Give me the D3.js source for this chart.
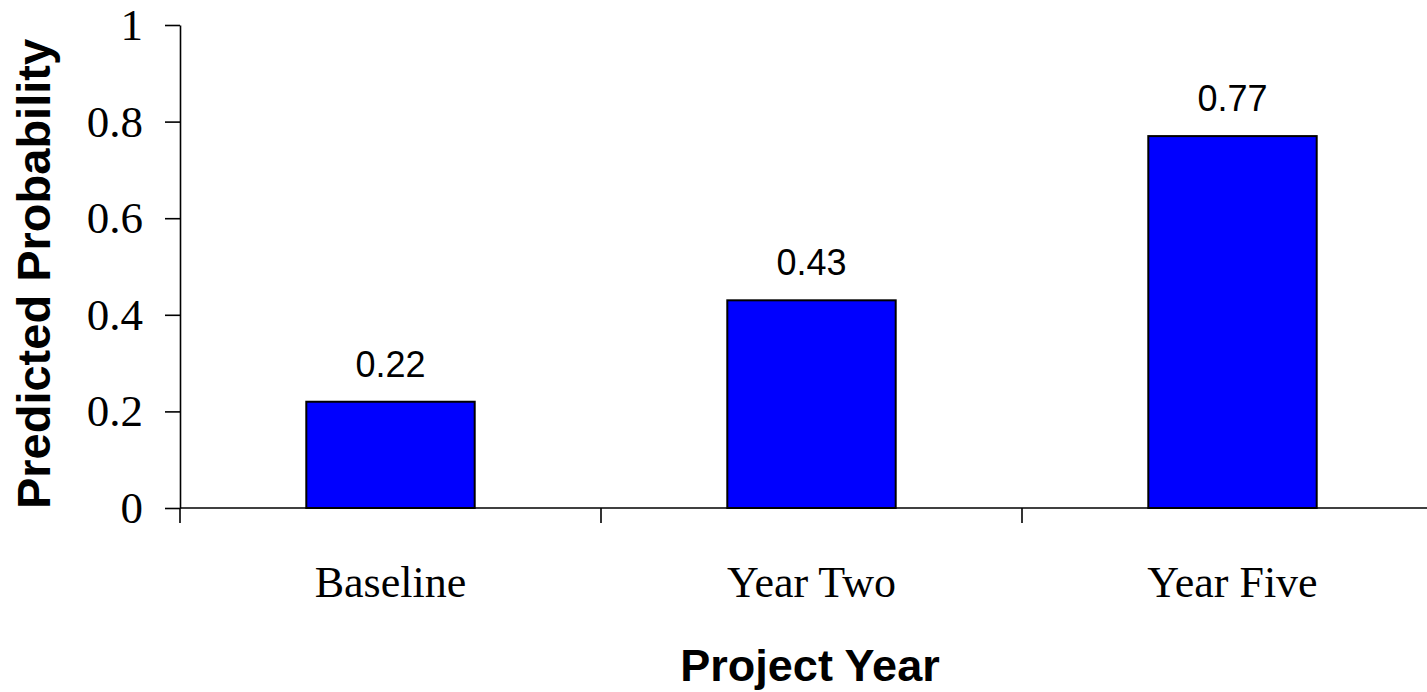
<!DOCTYPE html>
<html>
<head>
<meta charset="utf-8">
<script src="https://cdn.jsdelivr.net/npm/d3@7"></script>
<style>
  html, body { margin: 0; padding: 0; background: #fff; }
  svg { display: block; }
</style>
</head>
<body>
<svg id="chart" width="1427" height="692"></svg>
<script>
// Predicted probability by project year
const categories = ["Baseline", "Year Two", "Year Five"];
const probabilities = [0.22, 0.43, 0.77];
const valueLabels = ["0.22", "0.43", "0.77"];
const yTicks = [0, 0.2, 0.4, 0.6, 0.8, 1];

const svg = d3.select("#chart");
const plot = { left: 180, right: 1443, top: 25, bottom: 508 };
const tickLen = 15;

const x = d3.scaleBand()
  .domain(categories)
  .range([plot.left, plot.right])
  .paddingInner(0.6)
  .paddingOuter(0.3);

const y = d3.scaleLinear().domain([0, 1]).range([plot.bottom, plot.top]);

// Bars
svg.append("g")
  .selectAll("rect")
  .data(probabilities)
  .join("rect")
  .attr("x", (d, i) => x(categories[i]))
  .attr("y", d => y(d))
  .attr("width", x.bandwidth())
  .attr("height", d => y(0) - y(d))
  .attr("fill", "#0000ff")
  .attr("stroke", "#000")
  .attr("stroke-width", 2);

// Value labels above bars
svg.append("g")
  .selectAll("text")
  .data(probabilities)
  .join("text")
  .attr("x", (d, i) => x(categories[i]) + x.bandwidth() / 2)
  .attr("y", d => y(d) - 25)
  .attr("text-anchor", "middle")
  .attr("font-family", "Liberation Sans, Arial, sans-serif")
  .attr("font-size", 36)
  .attr("fill", "#000")
  .text((d, i) => valueLabels[i]);

// Y axis
const yAxis = svg.append("g")
  .attr("transform", `translate(${plot.left},0)`)
  .call(d3.axisLeft(y)
    .tickValues(yTicks)
    .tickFormat(d3.format("~g"))
    .tickSize(tickLen)
    .tickSizeOuter(0)
    .tickPadding(22));
yAxis.select(".domain").attr("stroke", "#000").attr("stroke-width", 1.6);
yAxis.selectAll(".tick line").attr("stroke", "#000").attr("stroke-width", 1.6);
yAxis.selectAll(".tick text")
  .attr("font-family", "Liberation Serif, Times New Roman, serif")
  .attr("font-size", 45)
  .attr("fill", "#000");

// X axis: baseline plus ticks at category boundaries
const gapHalf = (x.step() - x.bandwidth()) / 2;
const boundaries = categories.map(c => x(c) - gapHalf)
  .concat([x(categories[categories.length - 1]) + x.bandwidth() + gapHalf]);

const xAxis = svg.append("g");
xAxis.append("line")
  .attr("x1", plot.left).attr("x2", plot.right)
  .attr("y1", y(0)).attr("y2", y(0))
  .attr("stroke", "#000").attr("stroke-width", 1.6);
xAxis.selectAll("line.tick")
  .data(boundaries)
  .join("line")
  .attr("class", "tick")
  .attr("x1", d => d).attr("x2", d => d)
  .attr("y1", y(0)).attr("y2", y(0) + tickLen)
  .attr("stroke", "#000").attr("stroke-width", 1.6);
xAxis.selectAll("text")
  .data(categories)
  .join("text")
  .attr("x", d => x(d) + x.bandwidth() / 2)
  .attr("y", 597)
  .attr("text-anchor", "middle")
  .attr("font-family", "Liberation Serif, Times New Roman, serif")
  .attr("font-size", 44)
  .attr("fill", "#000")
  .text(d => d);

// Axis titles
svg.append("text")
  .attr("x", 810)
  .attr("y", 681)
  .attr("text-anchor", "middle")
  .attr("font-family", "Liberation Sans, Arial, sans-serif")
  .attr("font-weight", "bold")
  .attr("font-size", 45)
  .attr("fill", "#000")
  .text("Project Year");

svg.append("text")
  .attr("transform", "translate(50,274) rotate(-90)")
  .attr("text-anchor", "middle")
  .attr("font-family", "Liberation Sans, Arial, sans-serif")
  .attr("font-weight", "bold")
  .attr("font-size", 47)
  .attr("fill", "#000")
  .text("Predicted Probability");
</script>
</body>
</html>
